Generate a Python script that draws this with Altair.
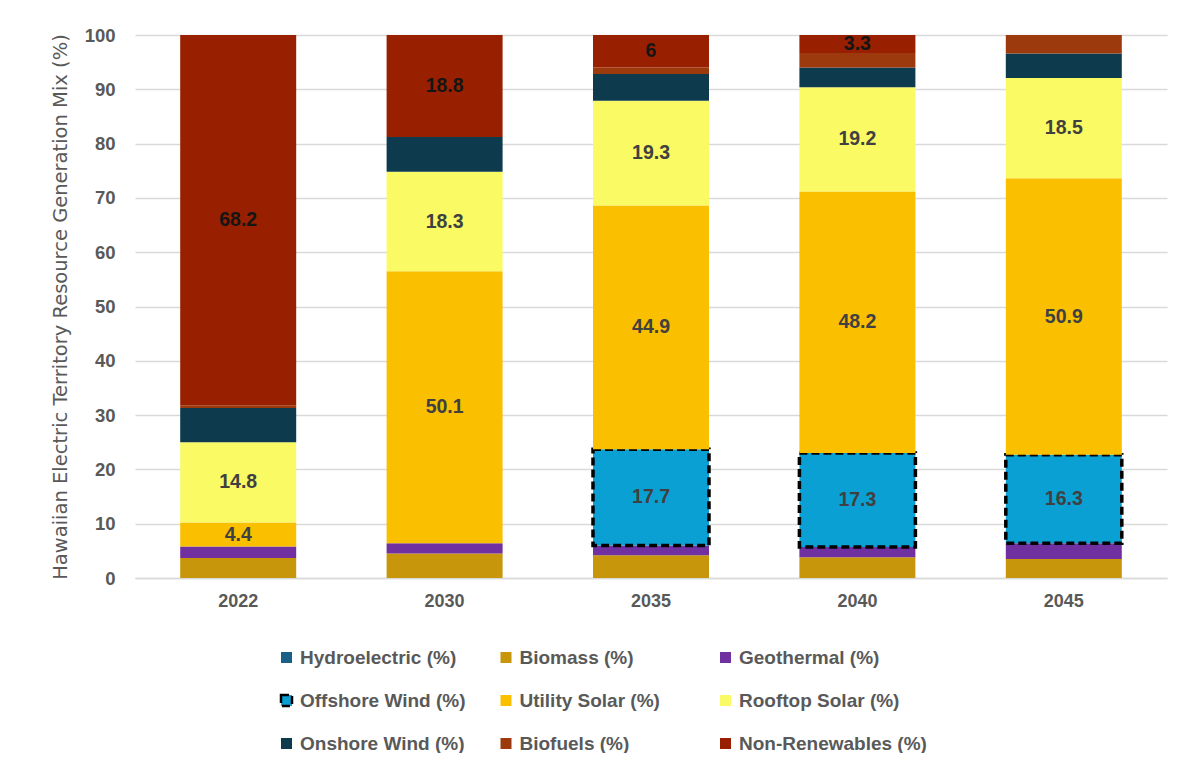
import altair as alt
import pandas as pd

years = ["2022", "2030", "2035", "2040", "2045"]

# legend order, listed column by column (legend has 3 columns, 3 rows)
categories = ["Hydroelectric (%)", "Offshore Wind (%)", "Onshore Wind (%)",
              "Biomass (%)", "Utility Solar (%)", "Biofuels (%)",
              "Geothermal (%)", "Rooftop Solar (%)", "Non-Renewables (%)"]
colors = ["#1B5E86", "#0AA0D4", "#0E3A4E",
          "#C8960A", "#FAC000", "#9C3A0E",
          "#7030A0", "#FAFA64", "#982000"]

# stacking order, bottom to top
stack_order = ["Biomass (%)", "Geothermal (%)", "Hydroelectric (%)", "Offshore Wind (%)",
               "Utility Solar (%)", "Rooftop Solar (%)", "Onshore Wind (%)",
               "Biofuels (%)", "Non-Renewables (%)"]

hydroelectric = [0.0, 0.0, 0.0, 0.0, 0.0]
biomass = [3.7, 4.5, 4.2, 3.8, 3.5]
geothermal = [2.1, 1.9, 1.8, 1.9, 2.9]
offshore_wind = [0.0, 0.0, 17.7, 17.3, 16.3]
utility_solar = [4.4, 50.1, 44.9, 48.2, 50.9]
rooftop_solar = [14.8, 18.3, 19.3, 19.2, 18.5]
onshore_wind = [6.3, 6.4, 4.9, 3.6, 4.5]
biofuels = [0.5, 0.0, 1.2, 2.7, 3.4]
non_renewables = [68.2, 18.8, 6.0, 3.3, 0.0]

labeled = ["Offshore Wind (%)", "Utility Solar (%)", "Rooftop Solar (%)", "Non-Renewables (%)"]

series = {
    "Hydroelectric (%)": hydroelectric,
    "Biomass (%)": biomass,
    "Geothermal (%)": geothermal,
    "Offshore Wind (%)": offshore_wind,
    "Utility Solar (%)": utility_solar,
    "Rooftop Solar (%)": rooftop_solar,
    "Onshore Wind (%)": onshore_wind,
    "Biofuels (%)": biofuels,
    "Non-Renewables (%)": non_renewables,
}

rows = []
for cat, vals in series.items():
    for y, v in zip(years, vals):
        lab = "" if (cat not in labeled or v <= 0) else (f"{v:g}")
        rows.append({"year": y, "category": cat, "value": v,
                     "order": stack_order.index(cat), "label": lab})
df = pd.DataFrame(rows)

FONT = "Liberation Sans"
GRAY = "#595959"

strokes = ["transparent"] * 9
strokes[categories.index("Offshore Wind (%)")] = "#000000"
dashes = [[1, 0]] * 9
dashes[categories.index("Offshore Wind (%)")] = [8, 4]

legend = alt.Legend(
    title=None, orient="none", legendX=142, legendY=613, columns=3,
    symbolType="square", symbolSize=121, symbolStrokeWidth=2.5,
    labelFont=FONT, labelFontSize=19, labelFontWeight="bold", labelColor=GRAY,
    labelOffset=4, columnPadding=7.5, rowPadding=22, gridAlign="all",
    labelLimit=400,
)

xenc = alt.X("year:N", sort=years,
             scale=alt.Scale(paddingInner=0.438, paddingOuter=0.219),
             axis=alt.Axis(title=None, labelAngle=0, ticks=False, labelPadding=14,
                           labelFont=FONT, labelFontSize=18, labelFontWeight="bold",
                           labelColor=GRAY, domainColor="#D9D9D9", domainWidth=1.5))

base = alt.Chart(df)

bars = base.transform_filter("datum.value > 0").mark_bar(strokeWidth=3.5).encode(
    x=xenc,
    y=alt.Y("value:Q", stack="zero", scale=alt.Scale(domain=[0, 100], nice=False),
            axis=alt.Axis(title="Hawaiian Electric Territory Resource Generation Mix (%)",
                          values=list(range(0, 101, 10)), domain=False, ticks=False,
                          labelPadding=20, labelFont=FONT, labelFontSize=18.5,
                          labelFontWeight="bold", labelColor=GRAY,
                          titleFont="DejaVu Sans", titleFontSize=19.5, titleFontWeight="normal",
                          titleColor=GRAY, titlePadding=14,
                          gridColor="#D9D9D9", gridWidth=1.5)),
    color=alt.Color("category:N", scale=alt.Scale(domain=categories, range=colors), legend=legend),
    stroke=alt.Stroke("category:N", scale=alt.Scale(domain=categories, range=strokes), legend=legend),
    strokeDash=alt.StrokeDash("category:N", scale=alt.Scale(domain=categories, range=dashes), legend=legend),
    order=alt.Order("order:Q"),
)

text = base.transform_filter("datum.value > 0").transform_stack(
    stack="value", groupby=["year"], sort=[alt.SortField("order")], as_=["v0", "v1"]
).transform_calculate(mid="(datum.v0 + datum.v1) / 2").transform_filter(
    "datum.label != ''"
).mark_text(font=FONT, fontSize=19.5, fontWeight="bold", baseline="middle").encode(
    x=alt.X("year:N", sort=years),
    y=alt.Y("mid:Q"),
    text="label:N",
    color=alt.condition("datum.category == 'Non-Renewables (%)'",
                        alt.value("#151515"), alt.value("#404040")),
)

chart = alt.layer(bars, text).properties(
    width=1032, height=543,
    autosize=alt.AutoSizeParams(type="none"),
    padding={"left": 127, "top": 27, "right": 8, "bottom": 175},
).configure_view(stroke=None)

chart.save("out.html", embed_options={"renderer": "svg", "actions": False})
